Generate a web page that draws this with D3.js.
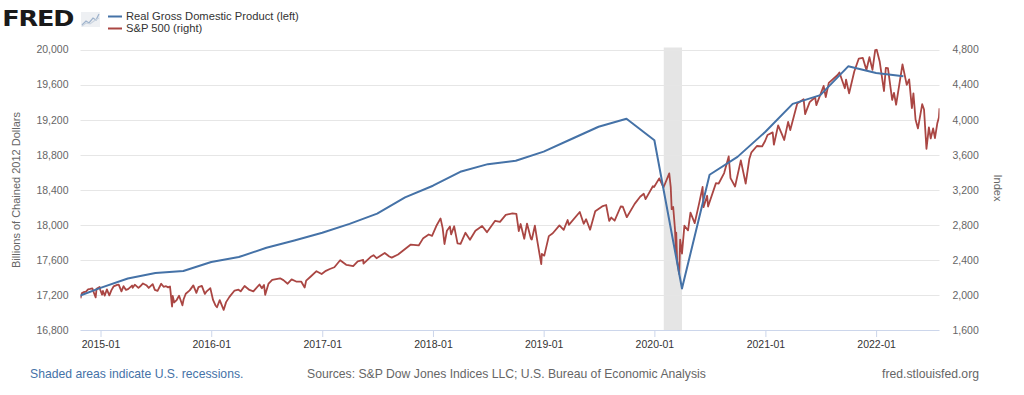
<!DOCTYPE html>
<html><head><meta charset="utf-8">
<script src="https://cdn.jsdelivr.net/npm/d3@7/dist/d3.min.js"></script>
<style>
html,body{margin:0;padding:0;background:#fff;}
svg{display:block;font-family:"Liberation Sans",Arial,Helvetica,sans-serif;}
</style></head>
<body>
<svg id="c" width="1024" height="395"></svg>
<script>
// ---- Data ----
const gdpDates = ["2014-10-01","2015-01-01","2015-04-01","2015-07-01","2015-10-01","2016-01-01","2016-04-01","2016-07-01","2016-10-01","2017-01-01","2017-04-01","2017-07-01","2017-10-01","2018-01-01","2018-04-01","2018-07-01","2018-10-01","2019-01-01","2019-04-01","2019-07-01","2019-10-01","2020-01-01","2020-04-01","2020-07-01","2020-10-01","2021-01-01","2021-04-01","2021-07-01","2021-10-01","2022-01-01","2022-04-01"];
const gdpValues = [17160,17280,17387,17450,17473,17575,17632,17738,17821,17909,18011,18128,18313,18446,18605,18692,18730,18835,18976,19119,19210,18965,17273,18571,18775,19062,19380,19479,19808,19732,19694];

const spDates = [
"2014-10-27","2014-10-31","2014-11-07","2014-11-14","2014-11-21","2014-11-28","2014-12-05","2014-12-10","2014-12-16","2014-12-19","2014-12-29","2014-12-31",
"2015-01-06","2015-01-09","2015-01-15","2015-01-22","2015-01-30","2015-02-06","2015-02-13","2015-02-25","2015-03-02","2015-03-11","2015-03-18","2015-03-26","2015-04-02","2015-04-15","2015-04-17","2015-04-24","2015-05-06","2015-05-12","2015-05-21","2015-06-01","2015-06-09","2015-06-22","2015-06-29","2015-07-08","2015-07-20","2015-07-28","2015-08-05","2015-08-12","2015-08-18","2015-08-20","2015-08-24","2015-08-25","2015-08-27","2015-09-01","2015-09-09","2015-09-17","2015-09-28","2015-10-02","2015-10-09","2015-10-22","2015-11-03","2015-11-13","2015-11-20","2015-12-01","2015-12-11","2015-12-17","2015-12-29",
"2016-01-07","2016-01-15","2016-01-20","2016-01-29","2016-02-05","2016-02-11","2016-02-19","2016-03-01","2016-03-18","2016-03-31","2016-04-07","2016-04-20","2016-05-06","2016-05-19","2016-06-08","2016-06-16","2016-06-23","2016-06-27","2016-07-08","2016-07-20","2016-08-15","2016-08-26","2016-09-09","2016-09-22","2016-10-07","2016-10-24","2016-11-04","2016-11-09","2016-11-25","2016-12-13","2016-12-30",
"2017-01-13","2017-01-26","2017-02-10","2017-03-01","2017-03-21","2017-03-27","2017-04-13","2017-04-28","2017-05-16","2017-05-17","2017-06-09","2017-06-19","2017-06-29","2017-07-26","2017-08-10","2017-08-18","2017-09-08","2017-09-29","2017-10-20","2017-11-15","2017-11-30","2017-12-18","2017-12-29",
"2018-01-12","2018-01-26","2018-02-02","2018-02-08","2018-02-16","2018-02-26","2018-03-02","2018-03-12","2018-03-23","2018-04-02","2018-04-18","2018-05-03","2018-05-21","2018-06-12","2018-06-28","2018-07-25","2018-08-10","2018-08-29","2018-09-20","2018-10-03","2018-10-11","2018-10-17","2018-10-29","2018-11-07","2018-11-20","2018-11-23","2018-12-03","2018-12-10","2018-12-24","2018-12-26",
"2019-01-03","2019-01-18","2019-01-31","2019-02-22","2019-03-08","2019-03-21","2019-03-25","2019-04-30","2019-05-13","2019-05-21","2019-06-03","2019-06-20","2019-07-15","2019-07-26","2019-08-05","2019-08-12","2019-08-23","2019-09-12","2019-09-19","2019-10-02","2019-10-28","2019-11-15","2019-11-27","2019-12-03","2019-12-27","2019-12-31",
"2020-01-17","2020-01-31","2020-02-19","2020-02-24","2020-02-27","2020-03-03","2020-03-09","2020-03-12","2020-03-13","2020-03-16","2020-03-23","2020-03-26","2020-04-01","2020-04-09","2020-04-21","2020-04-29","2020-05-13","2020-05-27","2020-06-08","2020-06-11","2020-06-23","2020-06-26","2020-07-22","2020-07-31","2020-08-18","2020-09-02","2020-09-08","2020-09-23","2020-10-12","2020-10-28","2020-11-09","2020-11-16","2020-12-04","2020-12-21","2020-12-31",
"2021-01-08","2021-01-25","2021-01-29","2021-02-12","2021-02-25","2021-03-04","2021-03-17","2021-03-24","2021-04-16","2021-05-07","2021-05-12","2021-05-27","2021-06-14","2021-06-18","2021-07-12","2021-07-19","2021-07-29","2021-08-27","2021-09-02","2021-09-20","2021-09-24","2021-10-04","2021-10-21","2021-11-05","2021-11-18","2021-11-30","2021-12-10","2021-12-20","2021-12-29",
"2022-01-03","2022-01-13","2022-01-27","2022-02-02","2022-02-09","2022-02-23","2022-03-01","2022-03-08","2022-03-29","2022-04-12","2022-04-20","2022-04-29","2022-05-04","2022-05-11","2022-05-19","2022-06-02","2022-06-08","2022-06-16","2022-06-24","2022-06-30","2022-07-08","2022-07-14","2022-07-22","2022-07-27","2022-07-29"];
const spValues = [
1961,2018,2032,2039,2064,2068,2075,2026,1973,2071,2091,2059,
2003,2045,1993,2063,1995,2055,2097,2114,2117,2040,2100,2057,2067,2107,2081,2117,2080,2099,2131,2111,2080,2123,2058,2047,2128,2093,2100,2086,2097,2035,1893,1868,1988,1914,1942,1990,1882,1951,2014,2052,2109,2023,2089,2103,2012,2041,2078,
1943,1880,1859,1940,1880,1829,1918,1978,2050,2060,2041,2102,2057,2040,2119,2077,2113,2001,2130,2173,2190,2169,2128,2177,2153,2151,2085,2163,2213,2271,2239,
2275,2296,2316,2396,2344,2341,2329,2384,2400,2357,2432,2453,2419,2478,2438,2426,2461,2519,2575,2565,2648,2690,2674,
2786,2873,2762,2581,2732,2780,2691,2783,2588,2582,2709,2630,2733,2787,2716,2846,2833,2914,2931,2925,2728,2809,2641,2814,2641,2633,2790,2637,2351,2468,
2448,2671,2704,2793,2743,2855,2799,2946,2812,2864,2744,2954,3014,3026,2844,2883,2847,3009,3006,2887,3039,3120,3154,3093,3240,3231,
3330,3226,3386,3226,2979,3003,2747,2481,2711,2386,2237,2630,2471,2790,2737,2940,2820,3036,3232,3002,3131,3009,3276,3271,3390,3580,3332,3237,3535,3271,3550,3627,3699,3694,3756,
3825,3855,3714,3934,3829,3768,3974,3881,4185,4233,4063,4200,4255,4166,4384,4258,4419,4509,4537,4358,4455,4300,4549,4697,4705,4567,4712,4568,4793,
4797,4660,4326,4589,4587,4225,4306,4170,4631,4397,4459,4132,4300,4001,3900,4176,4116,3667,3912,3785,3899,3790,3962,4024,4130];

const leftTicks = [16800,17200,17600,18000,18400,18800,19200,19600,20000];
const rightTicks = [1600,2000,2400,2800,3200,3600,4000,4400,4800];
const xTickLabels = ["2015-01","2016-01","2017-01","2018-01","2019-01","2020-01","2021-01","2022-01"];
const recessions = [["2020-02-01","2020-04-01"]];
const domainDates = ["2014-10-27","2022-07-29"];

// ---- Chart ----
const parse = d3.timeParse("%Y-%m-%d");
const parseM = d3.timeParse("%Y-%m");
const svg = d3.select("#c");
const L = 80.5, R = 939.5, T = 49.5, B = 330;

const x = d3.scaleTime().domain(domainDates.map(parse)).range([L, R]);
const yL = d3.scaleLinear().domain([16800, 20000]).range([B, T]);
const yR = d3.scaleLinear().domain([1600, 4800]).range([B, T]);

svg.append("defs").append("clipPath").attr("id","pc")
  .append("rect").attr("x",L).attr("y",T-3).attr("width",R-L).attr("height",B-T+3);

// recession shading
svg.append("g").selectAll("rect").data(recessions).join("rect")
  .attr("x", d => x(parse(d[0])))
  .attr("width", d => x(parse(d[1])) - x(parse(d[0])))
  .attr("y", T-2).attr("height", B-T+2)
  .attr("fill", "#e5e5e5");

// gridlines
svg.append("g").selectAll("line").data(leftTicks.slice(1)).join("line")
  .attr("x1", L).attr("x2", R)
  .attr("y1", d => Math.round(yL(d))+0.5).attr("y2", d => Math.round(yL(d))+0.5)
  .attr("stroke", "#e6e6e6").attr("stroke-width", 1);

// left axis
const gL = svg.append("g").attr("transform", `translate(${L-12},0)`)
  .call(d3.axisLeft(yL).tickValues(leftTicks).tickSize(0).tickPadding(0).tickFormat(d3.format(",")));
gL.select(".domain").remove();
gL.selectAll("text").attr("font-size", 10.5).attr("fill", "#666").attr("font-family", "Liberation Sans, Arial, sans-serif");

// right axis
const gR = svg.append("g").attr("transform", `translate(${R+13},0)`)
  .call(d3.axisRight(yR).tickValues(rightTicks).tickSize(0).tickPadding(0).tickFormat(d3.format(",")));
gR.select(".domain").remove();
gR.selectAll("text").attr("font-size", 10.5).attr("fill", "#666").attr("font-family", "Liberation Sans, Arial, sans-serif");

// bottom axis
const xTicks = xTickLabels.map(parseM);
const gX = svg.append("g").attr("transform", `translate(0,${B})`)
  .call(d3.axisBottom(x).tickValues(xTicks).tickSize(7).tickPadding(4).tickFormat(d3.timeFormat("%Y-%m")));
gX.select(".domain").attr("stroke", "#ccd6eb").attr("d", `M${L},0.5H${R}`);
gX.selectAll(".tick line").attr("stroke", "#ccd6eb");
gX.selectAll("text").attr("font-size", 10.5).attr("fill", "#333").attr("font-family", "Liberation Sans, Arial, sans-serif");

// axis titles
svg.append("text").attr("transform", "translate(20,190) rotate(-90)")
  .attr("text-anchor", "middle").attr("font-size", 11).attr("fill", "#666")
  .text("Billions of Chained 2012 Dollars");
svg.append("text").attr("transform", "translate(994,188) rotate(90)")
  .attr("text-anchor", "middle").attr("font-size", 11).attr("fill", "#666")
  .text("Index");

// lines
const gdp = gdpDates.map((d,i) => ({d: parse(d), v: gdpValues[i]}));
const sp = spDates.map((d,i) => ({d: parse(d), v: spValues[i]}));
const plot = svg.append("g").attr("clip-path", "url(#pc)");
plot.append("path").datum(sp)
  .attr("d", d3.line().x(d => x(d.d)).y(d => yR(d.v)))
  .attr("fill", "none").attr("stroke", "#aa4643").attr("stroke-width", 1.8).attr("stroke-linejoin","round");
plot.append("path").datum(gdp)
  .attr("d", d3.line().x(d => x(d.d)).y(d => yL(d.v)))
  .attr("fill", "none").attr("stroke", "#4572a7").attr("stroke-width", 2).attr("stroke-linejoin","round");

// FRED logo
svg.append("text").attr("x", 2).attr("y", 26.5)
  .attr("font-size", 22).attr("font-weight", 900).attr("fill", "#1a1a1a")
  .attr("font-family", "DejaVu Sans, sans-serif").attr("letter-spacing", -1)
  .attr("transform","scale(1.16,1)")
  .text("FRED");
const icon = svg.append("g").attr("transform","translate(81,12)");
icon.append("rect").attr("width",19).attr("height",15).attr("fill","#eef0f3");
icon.append("path").attr("d","M1,13 L5,9 L8,11 L12,6 L15,8 L18,2").attr("fill","none").attr("stroke","#9fb3cc").attr("stroke-width",1.3);
icon.append("path").attr("d","M1,14 L5,11 L9,12 L13,9 L18,6").attr("fill","none").attr("stroke","#c9d3df").attr("stroke-width",1.1);

// legend
const legend = [
  {label:"Real Gross Domestic Product (left)", color:"#4572a7", y:16},
  {label:"S&P 500 (right)", color:"#aa4643", y:28}
];
const lg = svg.append("g").selectAll("g").data(legend).join("g");
lg.append("line").attr("x1",108).attr("x2",122).attr("y1",d=>d.y+0.5).attr("y2",d=>d.y+0.5)
  .attr("stroke",d=>d.color).attr("stroke-width",2);
lg.append("text").attr("x",126).attr("y",d=>d.y+4).attr("font-size",11.2).attr("fill","#333")
  .text(d=>d.label);

// footer
svg.append("text").attr("x",30).attr("y",378).attr("font-size",12.2).attr("fill","#4572a7")
  .text("Shaded areas indicate U.S. recessions.");
svg.append("text").attr("x",307).attr("y",378).attr("font-size",12.2).attr("fill","#666")
  .text("Sources: S&P Dow Jones Indices LLC; U.S. Bureau of Economic Analysis");
svg.append("text").attr("x",979).attr("y",378).attr("text-anchor","end").attr("font-size",12.2).attr("fill","#666")
  .text("fred.stlouisfed.org");
</script>
</body></html>
